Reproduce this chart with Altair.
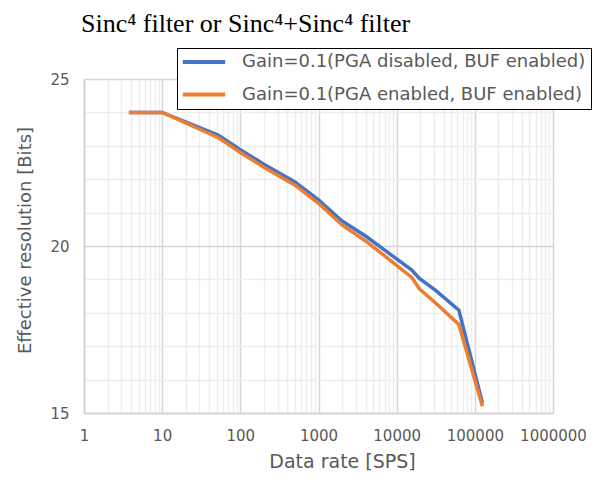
import altair as alt
import pandas as pd

rates_blue = [3.75, 10, 52, 100, 200, 500, 1000, 2000, 4000, 8000, 15600, 19500, 31250, 62500, 125000]
bits_blue = [24.0, 24.0, 23.32, 22.88, 22.45, 21.92, 21.38, 20.75, 20.3, 19.78, 19.28, 19.03, 18.68, 18.08, 15.3]
rates_orange = [3.75, 10, 52, 100, 200, 500, 1000, 2000, 4000, 8000, 15600, 19500, 31250, 62500, 125000]
bits_orange = [24.0, 24.0, 23.25, 22.8, 22.36, 21.82, 21.28, 20.63, 20.15, 19.6, 19.06, 18.72, 18.3, 17.65, 15.2]

label_blue = "Gain=0.1(PGA disabled, BUF enabled)"
label_orange = "Gain=0.1(PGA enabled, BUF enabled)"
x_ticks = [m * 10 ** e for e in range(0, 6) for m in range(1, 10)] + [1000000]
y_ticks = list(range(15, 26))

df = pd.concat([
    pd.DataFrame({"rate": rates_blue, "bits": bits_blue, "series": label_blue, "o": range(len(rates_blue))}),
    pd.DataFrame({"rate": rates_orange, "bits": bits_orange, "series": label_orange, "o": range(len(rates_orange))}),
])

GRAY = "#595959"
FONT = "DejaVu Sans"
decade = "abs(log(datum.value)/LN10 - round(log(datum.value)/LN10)) < 0.000001"

x = alt.X("rate:Q", scale=alt.Scale(type="log", domain=[1, 1000000]),
          axis=alt.Axis(title="Data rate [SPS]", values=x_ticks, format="d",
                        labelExpr=f"({decade}) ? datum.label : ''", labelOverlap=False, labelFlush=False,
                        labelFontSize=15, labelColor=GRAY, labelFont=FONT, labelPadding=15,
                        titleFontSize=19, titleColor=GRAY, titleFont=FONT, titleFontWeight="normal",
                        titleX=258, titleY=48, titleBaseline="middle", titleAlign="center",
                        ticks=False, domainColor="#d0d0d0", domainWidth=1.5,
                        gridColor={"condition": {"test": decade, "value": "#d6d6d6"}, "value": "#eeeeee"},
                        gridWidth=1.5))
y = alt.Y("bits:Q", scale=alt.Scale(domain=[15, 25], nice=False, zero=False),
          axis=alt.Axis(title="Effective resolution [Bits]", values=y_ticks,
                        labelExpr="(datum.value % 5 == 0) ? datum.label : ''", labelOverlap=False,
                        labelFontSize=15, labelColor=GRAY, labelFont=FONT, labelPadding=15,
                        titleFontSize=18, titleColor=GRAY, titleFont=FONT, titleFontWeight="normal",
                        titleX=-59, titleY=161, titleBaseline="middle", titleAlign="center", titleAngle=270,
                        ticks=False, domainColor="#d0d0d0", domainWidth=1.5,
                        gridColor={"condition": {"test": "datum.value % 5 == 0", "value": "#d6d6d6"}, "value": "#eeeeee"},
                        gridWidth=1.5))
color = alt.Color("series:N", scale=alt.Scale(domain=[label_blue, label_orange], range=["#4472C4", "#ED7D31"]),
                  legend=alt.Legend(orient="none", legendX=93, legendY=-31, title=None,
                                    strokeColor="black", fillColor="white", padding=5,
                                    symbolType="M-4.7,0H4.7", symbolSize=81, symbolStrokeWidth=4,
                                    symbolOffset=13, labelOffset=29, labelFontSize=18, labelColor=GRAY,
                                    labelFont=FONT, rowPadding=14.5, labelLimit=500))

base = alt.Chart(df).mark_line(strokeWidth=3.5).encode(x=x, y=y, color=color, order="o:Q")
blue = base.transform_filter(alt.datum.series == label_blue)
orange = base.transform_filter(alt.datum.series == label_orange)

chart = alt.layer(blue, orange).properties(
    width=469, height=334,
    title=alt.TitleParams("Sinc⁴ filter or Sinc⁴+Sinc⁴ filter", anchor="start", frame="group",
                          font="Liberation Serif", fontSize=26, fontWeight="normal", color="black",
                          offset=0, dx=-3, dy=10, baseline="alphabetic"),
    autosize=alt.AutoSizeParams(type="none"),
    padding={"left": 76, "top": 71, "right": 42, "bottom": 58},
).configure_view(stroke=None)

chart.save("out.html", embed_options={"renderer": "svg", "actions": False})
